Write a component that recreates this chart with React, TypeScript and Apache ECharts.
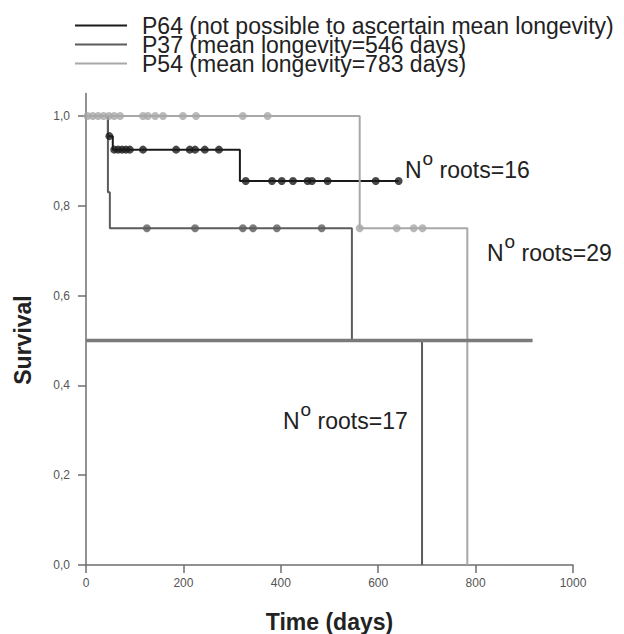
import React, { useEffect, useRef } from "react";
import * as echarts from "echarts";

// Kaplan-Meier step curves: [time (days), survival]
const P64_CURVE: number[][] = [[0, 1], [45, 0.955], [55, 0.925], [316, 0.855], [642, 0.855]];
const P37_CURVE: number[][] = [[0, 1], [45, 0.83], [49, 0.75], [546, 0.5], [690, 0]];
const P54_CURVE: number[][] = [[0, 1], [562, 0.75], [783, 0]];

// Censored observations
const P64_CENSORED: number[][] = [
  [48, 0.955],
  [58, 0.925], [66, 0.925], [74, 0.925], [82, 0.925], [90, 0.925], [117, 0.925],
  [185, 0.925], [213, 0.925], [224, 0.925], [244, 0.925], [273, 0.925],
  [328, 0.855], [382, 0.855], [402, 0.855], [425, 0.855], [455, 0.855], [464, 0.855],
  [496, 0.855], [595, 0.855], [642, 0.855],
];
const P37_CENSORED: number[][] = [
  [125, 0.75], [224, 0.75], [322, 0.75], [343, 0.75], [392, 0.75], [484, 0.75],
];
const P54_CENSORED: number[][] = [
  [3, 1], [14, 1], [25, 1], [36, 1], [47, 1], [58, 1], [70, 1],
  [117, 1], [127, 1], [142, 1], [158, 1], [199, 1], [226, 1], [322, 1], [373, 1],
  [562, 0.75], [638, 0.75], [673, 0.75], [691, 0.75],
];

const MEDIAN_LINE: number[][] = [[0, 0.5], [917, 0.5]];

const SERIES_NAMES = [
  "P64 (not possible to ascertain mean longevity)",
  "P37 (mean longevity=546 days)",
  "P54 (mean longevity=783 days)",
];
const Y_TICKS = [0, 0.2, 0.4, 0.6, 0.8, 1.0];
const ROOT_LABELS = ["16", "29", "17"];

const FONT = "'Liberation Sans', Arial, Helvetica, sans-serif";

export default function App() {
  const ref = useRef<HTMLDivElement>(null);

  useEffect(() => {
    if (!ref.current) return;
    const chart = echarts.init(ref.current, undefined, { renderer: "svg" });
    const cBlack = "#1a1a1a";
    const cMid = "#5c5c5c";
    const cLight = "#a8a8a8";

    const rootText = (n: string, x: number, y: number) => ({
      type: "text",
      x,
      y,
      style: {
        text: `{n|N}{s|o}{r| roots=${n}}`,
        align: "left",
        verticalAlign: "bottom",
        fill: "#222",
        font: `23px ${FONT}`,
        rich: {
          n: { fontSize: 23, fontFamily: FONT, lineHeight: 23, verticalAlign: "bottom", fill: "#222" },
          s: { fontSize: 19, fontFamily: FONT, lineHeight: 19, verticalAlign: "bottom", padding: [0, 0, 13, 1], fill: "#222" },
          r: { fontSize: 23, fontFamily: FONT, lineHeight: 23, verticalAlign: "bottom", fill: "#222" },
        },
      },
    });

    chart.setOption({
      animation: false,
      backgroundColor: "#ffffff",
      textStyle: { fontFamily: FONT },
      grid: { left: 86, right: 51, top: 93.5, bottom: 69, outerBoundsMode: "none" },
      legend: {
        orient: "vertical",
        left: 75,
        top: 14,
        padding: 0,
        itemGap: -4,
        itemWidth: 52,
        itemHeight: 2,
        icon: "rect",
        data: SERIES_NAMES,
        textStyle: { fontSize: 23, lineHeight: 18, color: "#222", fontFamily: FONT, padding: [0, 0, 0, 10] },
      },
      xAxis: {
        type: "value",
        min: 0,
        max: 1000,
        interval: 200,
        name: "Time (days)",
        nameLocation: "middle",
        nameGap: 45,
        nameTextStyle: { fontSize: 23, fontWeight: "bold", color: "#222", fontFamily: FONT },
        splitLine: { show: false },
        axisLine: { show: true, lineStyle: { color: "#6e6e6e", width: 1.5 } },
        axisTick: { show: true, length: 8, lineStyle: { color: "#6e6e6e", width: 1.5 } },
        axisLabel: {
          fontSize: 12,
          color: "#555",
          margin: 12,
          fontFamily: FONT,
          formatter: (v: number) => String(v),
        },
      },
      yAxis: {
        type: "value",
        min: 0,
        max: 1.05,
        splitLine: { show: false },
        axisLine: { show: true, lineStyle: { color: "#6e6e6e", width: 1.5 } },
        axisTick: { show: true, length: 8, customValues: Y_TICKS, lineStyle: { color: "#6e6e6e", width: 1.5 } },
        axisLabel: {
          fontSize: 12,
          color: "#555",
          margin: 16,
          fontFamily: FONT,
          customValues: Y_TICKS,
          formatter: (v: number) => v.toFixed(1).replace(".", ","),
        },
      },
      graphic: [
        {
          type: "text",
          x: 23,
          y: 340,
          rotation: Math.PI / 2,
          style: {
            text: "Survival",
            align: "center",
            verticalAlign: "middle",
            fill: "#222",
            font: `bold 23px ${FONT}`,
          },
        },
        rootText(ROOT_LABELS[0], 405, 181),
        rootText(ROOT_LABELS[1], 487, 264),
        rootText(ROOT_LABELS[2], 283, 432),
      ],
      series: [
        {
          name: SERIES_NAMES[0],
          type: "line",
          step: "end",
          data: P64_CURVE,
          showSymbol: false,
          color: cBlack,
          lineStyle: { color: cBlack, width: 2 },
          z: 2,
        },
        {
          name: SERIES_NAMES[1],
          type: "line",
          step: "end",
          data: P37_CURVE,
          showSymbol: false,
          color: cMid,
          lineStyle: { color: cMid, width: 2 },
          z: 2,
        },
        {
          name: SERIES_NAMES[2],
          type: "line",
          step: "end",
          data: P54_CURVE,
          showSymbol: false,
          color: cLight,
          lineStyle: { color: cLight, width: 2 },
          z: 2,
        },
        {
          name: "P64 censored",
          type: "scatter",
          data: P64_CENSORED,
          symbolSize: 8,
          itemStyle: { color: cBlack },
          z: 3,
        },
        {
          name: "P37 censored",
          type: "scatter",
          data: P37_CENSORED,
          symbolSize: 8,
          itemStyle: { color: cMid },
          z: 3,
        },
        {
          name: "P54 censored",
          type: "scatter",
          data: P54_CENSORED,
          symbolSize: 8,
          itemStyle: { color: cLight },
          z: 3,
        },
        {
          name: "Median",
          type: "line",
          data: MEDIAN_LINE,
          showSymbol: false,
          color: "#7a7a7a",
          lineStyle: { color: "#7a7a7a", width: 3.5 },
          z: 4,
        },
      ],
    });
    return () => chart.dispose();
  }, []);

  return (
    <div
      ref={ref}
      style={{ position: "fixed", left: 0, top: 0, width: 624, height: 634, background: "#fff" }}
    />
  );
}
